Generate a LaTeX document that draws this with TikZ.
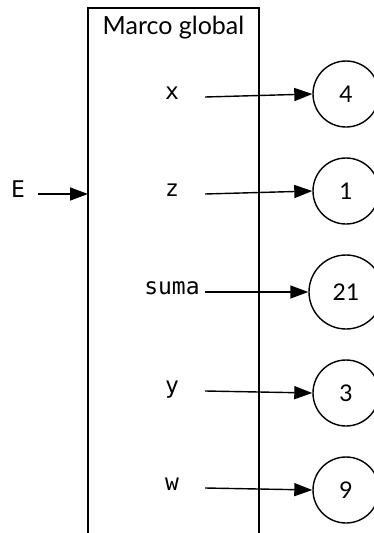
\documentclass[tikz,border=0pt]{standalone}
\usepackage{fontspec}
\setmainfont{Lato}
\newfontfamily\monof{DejaVu Sans Mono}
\usetikzlibrary{arrows.meta}
\begin{document}
\begin{tikzpicture}[x=1pt,y=-1pt,
  frame/.style={line width=1.4pt},
  var/.style={font=\monof\fontsize{23}{27}\selectfont, inner sep=0pt,
    text height=0.545em, text depth=0pt, minimum width=66pt, align=center},
  val/.style={circle, draw, line width=1.4pt, inner sep=0pt,
    minimum size=66pt, font=\fontsize{23}{27}\selectfont},
  link/.style={line width=1.4pt, -{Triangle[length=18pt,width=13pt]}}]
\clip (0,0) rectangle (374,533);
% frame
\draw[frame] (88,533) -- (88,8) -- (259,8) -- (259,533);
\coordinate (entry) at (88,194);
\node[font=\fontsize{25}{30}\selectfont, inner sep=0pt] (title) at (173.5,28) {Marco global};
% entry
\node[font=\monof\fontsize{23}{27}\selectfont, inner sep=0pt, text height=0.73em,
  text depth=0pt, minimum width=40pt] (E) at (18,194) {E};
\draw[link] (E.east) -- (entry);
% variables
\node[var] (x) at (172,97) {x};
\node[var] (z) at (172,194) {z};
\node[var] (suma) at (172,292) {suma};
\node[var] (y) at (172,391) {y};
\node[var] (w) at (172,488) {w};
% values
\node[val] (v4) at (346,94) {4};
\node[val] (v1) at (346,191) {1};
\node[val, minimum size=74pt] (v21) at (346,292) {21};
\node[val] (v3) at (346,393) {3};
\node[val] (v9) at (346,490) {9};
\draw[link] (x.east) -- (v4.west);
\draw[link] (z.east) -- (v1.west);
\draw[link] (suma.east) -- (v21.west);
\draw[link] (y.east) -- (v3.west);
\draw[link] (w.east) -- (v9.west);
\end{tikzpicture}
\end{document}
